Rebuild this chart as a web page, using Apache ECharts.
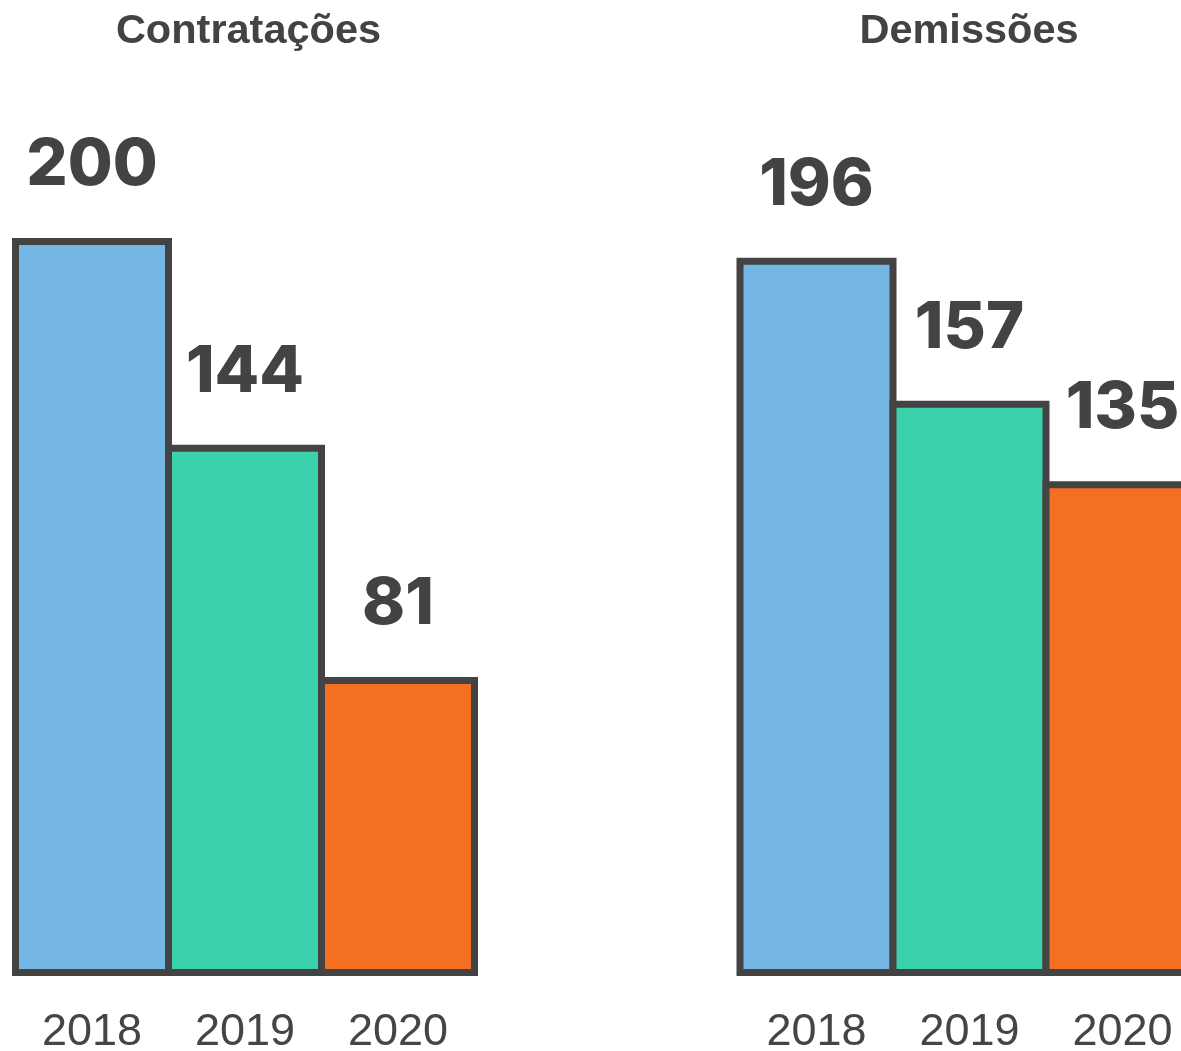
<!DOCTYPE html>
<html>
<head>
<meta charset="utf-8">
<script src="https://cdn.jsdelivr.net/npm/echarts@6/dist/echarts.min.js"></script>
<style>
  html, body { margin: 0; padding: 0; background: #ffffff; }
  #chart { width: 1181px; height: 1051px; }
</style>
</head>
<body>
<div id="chart"></div>
<script>
const categories = ['2018', '2019', '2020'];
const contratacoes = [200, 144, 81];
const demissoes = [196, 157, 135];
const barColors = ['#74b7e4', '#3cd1ad', '#f36f21'];
const panelTitles = ['Contratações', 'Demissões'];

const FONT = '"Liberation Sans", Arial, Helvetica, sans-serif';
const VALUE_FONT = 'Inter, "Liberation Sans", Arial, sans-serif';
const DARK = '#434343';

const chart = echarts.init(document.getElementById('chart'), null, { renderer: 'canvas' });

const grids = [
  { left: 15.5, bottom: 75, width: 459, height: 922.5, outerBoundsMode: 'none', containLabel: false },
  { left: 740, bottom: 75, width: 459, height: 916, outerBoundsMode: 'none', containLabel: false }
];
const titleX = [248.5, 969];

function makeSeries(values, idx) {
  return {
    type: 'bar',
    xAxisIndex: idx,
    yAxisIndex: idx,
    barCategoryGap: '0%',
    barWidth: 160,
    data: values.map((v, i) => ({ value: v, itemStyle: { color: barColors[i] } })),
    itemStyle: { borderColor: DARK, borderWidth: 7 },
    label: {
      show: true,
      position: 'top',
      distance: 40,
      fontFamily: VALUE_FONT,
      fontWeight: 800,
      fontSize: 65,
      color: DARK
    },
    emphasis: { disabled: true },
    animation: false
  };
}

const option = {
  backgroundColor: '#ffffff',
  animation: false,
  grid: grids,
  xAxis: grids.map((g, i) => ({
    type: 'category',
    gridIndex: i,
    data: categories,
    axisLine: { show: false },
    axisTick: { show: false },
    axisLabel: {
      margin: 34,
      fontFamily: FONT,
      fontSize: 45,
      color: '#454545'
    }
  })),
  yAxis: grids.map((g, i) => ({
    type: 'value',
    gridIndex: i,
    min: 0,
    max: 250,
    show: false,
    splitLine: { show: false }
  })),
  series: [makeSeries(contratacoes, 0), makeSeries(demissoes, 1)],
  graphic: panelTitles.map((t, i) => ({
    type: 'text',
    x: titleX[i],
    y: 32,
    style: {
      text: t,
      fontFamily: FONT,
      fontWeight: 'bold',
      fontSize: 41.5,
      fill: DARK,
      textAlign: 'center',
      textVerticalAlign: 'middle'
    }
  }))
};

chart.setOption(option);
</script>
</body>
</html>
